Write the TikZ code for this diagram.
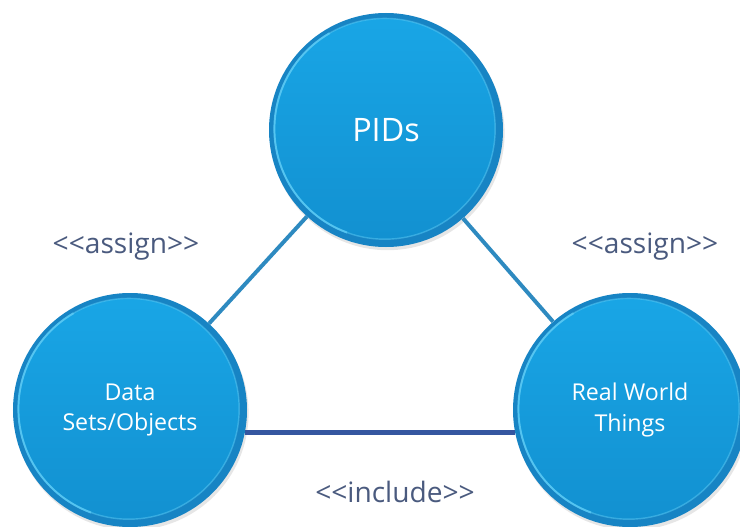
\documentclass[tikz,border=0pt]{standalone}
\usepackage{fontspec}
\setmainfont{Open Sans}
\usepackage{tikz}
\usetikzlibrary{shadows}

\definecolor{rimblue}{HTML}{1784C4}
\definecolor{topblue}{HTML}{19A6E6}
\definecolor{botblue}{HTML}{1290D0}
\definecolor{glowblue}{HTML}{5CCBF5}
\definecolor{linkblue}{HTML}{2E8AC0}
\definecolor{inclblue}{HTML}{3556A0}
\definecolor{labelgray}{HTML}{4A5A7E}

\tikzset{
  ball/.style={circle, minimum size=5.85cm, inner sep=0pt, fill=rimblue,
    text=white, align=center,
    drop shadow={opacity=0.2, shadow xshift=0.04cm, shadow yshift=-0.08cm},
    path picture={
      \shade[top color=topblue, bottom color=botblue]
        ([shift={(-0.03,0.03)}]path picture bounding box.center) circle (2.76cm);
      \draw[glowblue, line width=1pt, opacity=0.5]
        ([shift={(-0.03,0.03)}]path picture bounding box.center) circle (2.76cm);
      \draw[glowblue, line width=1.4pt, opacity=0.8]
        ([shift={(-0.03,0.03)}]path picture bounding box.center)
        ++(120:2.76cm) arc (120:250:2.76cm);
    }},
  stereo/.style={text=labelgray, font=\fontsize{20}{24}\selectfont},
}

\begin{document}
\begin{tikzpicture}
  \useasboundingbox (0,0) rectangle (18.5,13.15);

  % the three circles
  \node[ball, font=\fontsize{23}{28}\selectfont] (pids) at (9.65,9.9) {PIDs};
  \node[ball, font=\fontsize{16.5}{21.5}\selectfont] (data) at (3.25,2.9) {Data\\Sets/Objects};
  \node[ball, font=\fontsize{16.5}{21.5}\selectfont] (things) at (15.75,2.9) {Real World\\Things};

  % links
  \draw[linkblue, line width=2.8pt] (data) -- (pids);
  \draw[linkblue, line width=2.8pt] (pids) -- (things);
  \draw[inclblue, line width=3.5pt] (data.-11) -- (things.-169);

  % stereotypes
  \node[stereo] (assignl) at (3.15,6.975) {<{}<assign>{}>};
  \node[stereo] (assignr) at (16.125,6.975) {<{}<assign>{}>};
  \node[stereo] (incl) at (9.875,0.85) {<{}<include>{}>};
\end{tikzpicture}
\end{document}
